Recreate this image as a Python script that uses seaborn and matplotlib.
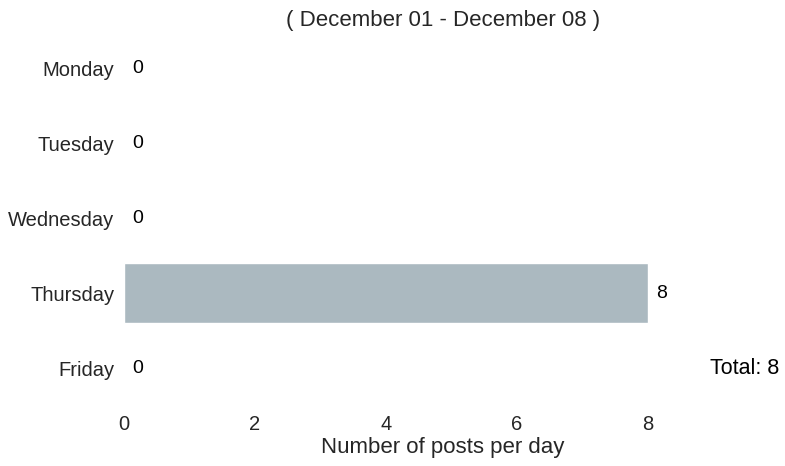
import matplotlib
matplotlib.use("Agg")
import matplotlib.pyplot as plt
import seaborn as sns
import pandas as pd

days = ["Monday", "Tuesday", "Wednesday", "Thursday", "Friday"]
posts = [0, 0, 0, 8, 0]
xticks = [0, 2, 4, 6, 8]
title = "( December 01 - December 08 )"
total_label = "Total: 8"

sns.set_theme(style="white")
plt.rcParams['font.family'] = ['Liberation Sans', 'DejaVu Sans']

df = pd.DataFrame({"day": days, "posts": posts})
fig = plt.figure(figsize=(7.85, 4.66), dpi=100)
ax = fig.add_axes([124/785, 1-405.5/466, (762-124)/785, (405.5-31.5)/466])
sns.barplot(data=df, x="posts", y="day", color="#abb9c0", saturation=1, ax=ax, width=0.8)
ax.set_xlim(0, max(posts) * 1.2175)
ax.set_xticks(xticks)
ax.set_xlabel("Number of posts per day", fontsize=16, color="#262626", labelpad=2)
ax.set_ylabel("")
ax.tick_params(axis="both", labelsize=14.5, colors="#262626", length=0, pad=7)
ax.set_title(title, fontsize=16, color="#262626", pad=4)
for s in ax.spines.values():
    s.set_visible(False)
for i, v in enumerate(posts):
    ax.text(v + 0.12, i, str(v), va="center", ha="left", fontsize=14, color="black", clip_on=False)
ax.text(8.95, 4, total_label, fontsize=15.5, color="black",
        ha="left", va="center", clip_on=False)
fig.savefig("out.png", dpi=100)
